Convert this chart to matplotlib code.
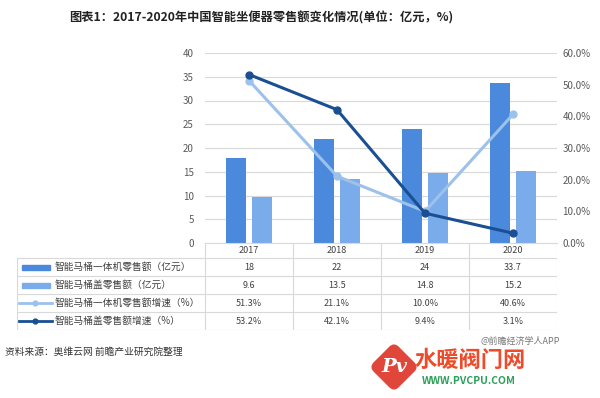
import numpy as np
import matplotlib.pyplot as plt
import matplotlib.transforms as mtransforms
from matplotlib.patches import Rectangle, FancyBboxPatch

plt.rcParams['font.family'] = ['Noto Sans CJK SC', 'DejaVu Sans']

# --- data ---
years = ['2017', '2018', '2019', '2020']
all_in_one = [18, 22, 24, 33.7]        # 智能马桶一体机零售额（亿元）
cover = [9.6, 13.5, 14.8, 15.2]         # 智能马桶盖零售额（亿元）
all_in_one_g = [51.3, 21.1, 10.0, 40.6]  # 增速 %
cover_g = [53.2, 42.1, 9.4, 3.1]         # 增速 %

names = ['智能马桶一体机零售额（亿元）', '智能马桶盖零售额（亿元）',
         '智能马桶一体机零售额增速（%）', '智能马桶盖零售额增速（%）']

C_BAR1 = '#4A89DC'
C_BAR2 = '#7AABEB'
C_LN1 = '#9CC2EC'
C_LN2 = '#1A4F93'
GRID = '#D9D9D9'
TXT = '#595959'

W, H = 600, 398
fig = plt.figure(figsize=(6, 3.98), dpi=100)

def fx(px):
    return px / W

def fy(py):
    return 1 - py / H

# --- main chart ---
L, R, T, B = 205, 557, 53, 243
ax = fig.add_axes([fx(L), fy(B), fx(R - L), fy(T) - fy(B)])
x = np.arange(len(years))
bw = 0.23
ax.bar(x - 0.145, all_in_one, bw, color=C_BAR1, zorder=2)
ax.bar(x + 0.145, cover, bw, color=C_BAR2, zorder=2)
ax.set_xlim(-0.5, 3.5)
ax.set_ylim(0, 40)
ax.set_yticks(range(0, 41, 5))
ax.set_xticks([])
ax.grid(axis='y', color=GRID, lw=0.8, zorder=0)
for s in ['top', 'right', 'left']:
    ax.spines[s].set_visible(False)
ax.spines['bottom'].set_color(GRID)
ax.tick_params(axis='y', length=0, labelsize=7, labelcolor=TXT, pad=8)

ax2 = ax.twinx()
ax2.plot(x, all_in_one_g, color=C_LN1, lw=2.2, marker='o', ms=5, zorder=3)
ax2.plot(x, cover_g, color=C_LN2, lw=2.2, marker='o', ms=5, zorder=4)
ax2.set_ylim(0, 60)
ax2.set_yticks(range(0, 61, 10))
ax2.set_yticklabels([f'{v:.1f}%' for v in range(0, 61, 10)])
for s in ax2.spines.values():
    s.set_visible(False)
ax2.tick_params(axis='y', length=0, labelsize=7, labelcolor=TXT, pad=4)

# --- data table ---
TL, TT, TB = 17, 243, 330
tax = fig.add_axes([fx(TL), fy(TB), fx(R - TL), fy(TT) - fy(TB)])
tax.set_xlim(TL, R)
tax.set_ylim(TB, TT)
tax.axis('off')
col_w = (R - L) / len(years)
rows_y = [258, 276, 294, 312, 330]
for yy in rows_y:
    tax.plot([TL, R], [yy, yy], color=GRID, lw=0.8)
for i in range(len(years) + 1):
    tax.plot([L + i * col_w] * 2, [TT, TB], color=GRID, lw=0.8)
tax.plot([TL, TL], [rows_y[0], TB], color=GRID, lw=0.8)

for i, yr in enumerate(years):
    tax.text(L + (i + 0.5) * col_w, (TT + rows_y[0]) / 2, yr,
             ha='center', va='center', fontsize=6.5, color='#404040')

table_vals = [
    [f'{v:g}' for v in all_in_one],
    [f'{v:g}' for v in cover],
    [f'{v:.1f}%' for v in all_in_one_g],
    [f'{v:.1f}%' for v in cover_g],
]
for r in range(4):
    yc = (rows_y[r] + rows_y[r + 1]) / 2
    for i, val in enumerate(table_vals[r]):
        tax.text(L + (i + 0.5) * col_w, yc, val, ha='center', va='center',
                 fontsize=6.5, color='#404040')
    tax.text(55, yc, names[r], ha='left', va='center', fontsize=7, color='#404040')

# legend keys
for r, c in enumerate([C_BAR1, C_BAR2]):
    yc = (rows_y[r] + rows_y[r + 1]) / 2
    tax.add_patch(Rectangle((22, yc - 2.5), 28, 5, color=c))
for r, c in zip([2, 3], [C_LN1, C_LN2]):
    yc = (rows_y[r] + rows_y[r + 1]) / 2
    tax.plot([19, 52], [yc, yc], color=c, lw=2)
    tax.plot([35], [yc], marker='o', ms=3.5, color=c)

# --- texts ---
fig.text(fx(261), fy(18), '图表1：2017-2020年中国智能坐便器零售额变化情况(单位：亿元，%)',
         ha='center', va='center', fontsize=8.8, fontweight='bold', color='#222222')
fig.text(fx(5), fy(352), '资料来源：奥维云网 前瞻产业研究院整理',
         ha='left', va='center', fontsize=7, color='#333333')

# watermark logo bottom right
lax = fig.add_axes([0, 0, 1, 1], zorder=10)
lax.set_xlim(0, W)
lax.set_ylim(H, 0)
lax.axis('off')
lax.text(520, 341, '@前瞻经济学人APP', ha='center', va='center', fontsize=6.5, color='#777777')
sq = FancyBboxPatch((377, 350), 34, 34, boxstyle='round,pad=0,rounding_size=6',
                    color='#E0463A')
sq.set_transform(mtransforms.Affine2D().rotate_deg_around(394, 367, 45) + lax.transData)
lax.add_patch(sq)
lax.text(394, 367, 'Pv', ha='center', va='center', fontsize=14, color='white',
         style='italic', fontweight='bold', family='DejaVu Serif')
lax.text(470, 360, '水暖阀门网', ha='center', va='center', fontsize=16,
         fontweight='bold', color='#EE4B2B')
lax.text(469, 381, 'WWW.PVCPU.COM', ha='center', va='center', fontsize=7.5,
         color='#2E9E5B', fontweight='bold')

fig.savefig('out.png', dpi=100)
